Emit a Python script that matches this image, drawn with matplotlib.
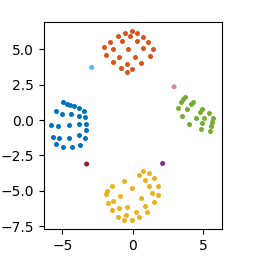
import numpy as np
import matplotlib
matplotlib.use('Agg')
import matplotlib.pyplot as plt

# cluster points
orange_x = [-0.07, -0.55, 0.33, -1.07, -0.19, 0.71, -1.61, -0.78, 0.28, 1.11, -2.02, -1.38, -0.36,
            0.75, 1.46, -1.92, -0.95, 0.16, 1.23, -1.42, -0.43, 0.59, -0.85, -0.07, -0.43]
orange_y = [6.32, 6.18, 6.14, 5.94, 5.94, 5.90, 5.50, 5.57, 5.57, 5.50, 5.17, 5.05, 5.07,
            5.10, 5.00, 4.62, 4.48, 4.48, 4.55, 4.13, 3.96, 4.01, 3.66, 3.59, 3.42]

blue_x = [-4.98, -4.69, -4.46, -4.17, -3.80, -3.44, -5.47, -5.00, -4.41, -3.84, -3.37, -5.79, -5.29,
          -4.51, -3.80, -3.34, -3.32, -5.69, -5.22, -4.51, -3.80, -3.37, -5.45, -4.98, -4.34, -3.75]
blue_y = [1.30, 1.13, 1.06, 0.97, 0.83, 0.64, 0.64, 0.45, 0.40, 0.30, 0.19, -0.35, -0.40,
          -0.35, -0.30, -0.26, -0.71, -1.18, -1.30, -1.25, -1.06, -1.30, -1.68, -1.93, -1.93, -1.77]

green_x = [3.72, 3.55, 4.31, 3.43, 4.12, 3.24, 3.84, 4.90, 4.78, 5.44, 3.53, 4.50, 5.09, 5.73,
           5.61, 4.02, 4.95, 5.54, 4.83, 5.49]
green_y = [1.65, 1.49, 1.30, 1.25, 1.11, 0.83, 0.78, 0.76, 0.54, 0.47, 0.30, 0.12, 0.12, 0.12,
           -0.12, -0.28, -0.23, -0.40, -0.64, -0.76]

yellow_x = [0.75, 0.47, 1.18, 1.54, 0.87, -0.62, -1.45, 1.18, 1.78, -0.03, -1.81, -1.92, 1.39, 1.82,
            -0.90, 0.57, -1.38, -1.73, 1.51, -0.38, 0.87, -0.97, -1.45, 0.21, 1.04, -0.50, -1.02,
            0.45, -0.62, -0.07]
yellow_y = [-3.59, -3.91, -3.73, -4.13, -4.25, -4.30, -4.67, -4.67, -4.67, -4.79, -5.02, -5.26, -5.19,
            -5.29, -5.38, -5.54, -5.71, -5.85, -5.78, -6.14, -6.09, -6.25, -6.37, -6.53, -6.49, -6.72,
            -6.84, -6.84, -7.08, -7.08]

# single outlier points
outlier_x = [-2.91, 2.94, -3.27, 2.13]
outlier_y = [3.73, 2.36, -3.11, -3.07]
outlier_c = ['#4DBEEE', '#DD82A8', '#A2142F', '#7E2F8E']

fig = plt.figure(figsize=(2.54, 2.66), dpi=100)
ax = fig.add_axes([0.173, 0.139, 0.700, 0.779])

sz = 13
ax.scatter(orange_x, orange_y, s=sz, c='#D95319', linewidths=0)
ax.scatter(blue_x, blue_y, s=sz, c='#0072BD', linewidths=0)
ax.scatter(green_x, green_y, s=sz, c='#77AC30', linewidths=0)
ax.scatter(yellow_x, yellow_y, s=sz, c='#EDB120', linewidths=0)
ax.scatter(outlier_x, outlier_y, s=sz, c=outlier_c, linewidths=0)

ax.set_xlim(-6.3, 6.33)
ax.set_ylim(-7.71, 6.96)
ax.set_xticks([-5, 0, 5])
ax.set_yticks([-7.5, -5.0, -2.5, 0.0, 2.5, 5.0])
ax.tick_params(labelsize=10)

fig.savefig('out.png', dpi=100)
